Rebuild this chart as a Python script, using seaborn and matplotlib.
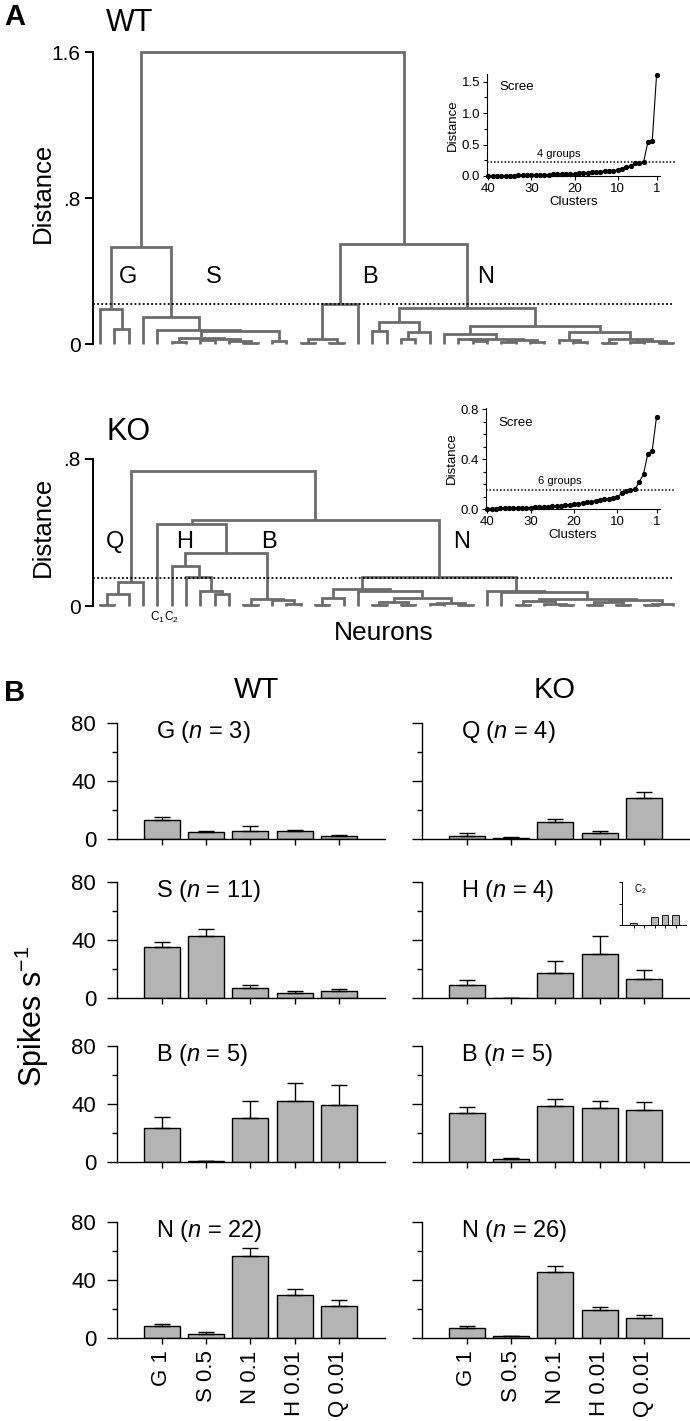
import numpy as np
import pandas as pd
import matplotlib
matplotlib.use("Agg")
import matplotlib.pyplot as plt
import seaborn as sns

# ---------------- data ----------------
L = None  # a leaf = one neuron

# dendrograms: node = (left, right, merge distance)
wt_G = (L, (L, L, 0.082), 0.19)
wt_S_core = ((L, L, 0.012), ((L, L, 0.02), (L, (L, L, 0.008), 0.015), 0.028), 0.035)
wt_S = (L, (L, (wt_S_core, (L, L, 0.018), 0.07), 0.077), 0.146)
wt_B = (((L, L, 0.004), (L, L, 0.006), 0.027), L, 0.219)
wt_N_a = ((L, L, 0.073), ((L, L, 0.03), L, 0.068), 0.122)
wt_N_b = (L, ((L, (L, L, 0.015), 0.028), ((L, L, 0.01), (L, L, 0.012), 0.02), 0.03), 0.055)
wt_N_c = ((L, (L, L, 0.01), 0.02), ((L, L, 0.008), ((L, L, 0.01), (L, L, 0.006), 0.015), 0.03), 0.064)
wt_N = (wt_N_a, (wt_N_b, wt_N_c, 0.10), 0.20)
wt_tree = ((wt_G, wt_S, 0.533), (wt_B, wt_N, 0.547), 1.6)
wt_cut = 0.219

ko_Q = (((L, L, 0.007), L, 0.063), L, 0.133)
ko_H = (L, (L, (L, L, 0.067), 0.081), 0.157)
ko_B = ((L, L, 0.005), (L, (L, L, 0.012), 0.035), 0.04)
ko_N_a = (((L, L, 0.007), L, 0.045),
          (L, (((L, L, 0.004), (L, L, 0.006), 0.02), ((L, L, 0.01), (L, L, 0.004), 0.018), 0.045), 0.081),
          0.094)
ko_N_b = (L, (L, (((L, L, 0.006), (L, (L, L, 0.004), 0.01), 0.025),
                  (((L, L, 0.008), (L, L, 0.005), 0.02), ((L, L, 0.007), L, 0.012), 0.03), 0.04), 0.075), 0.081)
ko_N = (ko_N_a, ko_N_b, 0.157)
ko_tree = (ko_Q, ((L, ((L, ko_H, 0.22), ko_B, 0.288), 0.445), ko_N, 0.467), 0.737)
ko_cut = 0.15

# scree: merge distance for 1..40 clusters
wt_scree = [1.60, 0.555, 0.545, 0.22, 0.205, 0.20, 0.165, 0.14, 0.115, 0.095,
            0.085, 0.08, 0.075, 0.07, 0.062, 0.058, 0.052, 0.048, 0.042, 0.038,
            0.035, 0.032, 0.029, 0.026, 0.024, 0.021, 0.019, 0.017, 0.015, 0.013,
            0.011, 0.010, 0.008, 0.007, 0.006, 0.005, 0.004, 0.003, 0.002, 0.001]
ko_scree = [0.74, 0.467, 0.445, 0.28, 0.215, 0.157, 0.152, 0.145, 0.13, 0.095,
            0.088, 0.083, 0.078, 0.072, 0.066, 0.06, 0.054, 0.048, 0.044, 0.04,
            0.036, 0.032, 0.028, 0.025, 0.022, 0.02, 0.018, 0.016, 0.014, 0.012,
            0.011, 0.010, 0.009, 0.008, 0.007, 0.006, 0.005, 0.004, 0.003, 0.002]

# panel B: mean spike rate and SEM per stimulus
stimuli = ["G 1", "S 0.5", "N 0.1", "H 0.01", "Q 0.01"]

wt_groups = ["G", "S", "B", "N"]
wt_n = [3, 11, 5, 22]
wt_rate = [[13.1, 4.6, 5.7, 5.3, 1.8],
           [34.9, 42.5, 6.9, 3.7, 4.6],
           [23.4, 0.4, 30.3, 42.3, 39.5],
           [8.1, 2.5, 56.6, 29.6, 22.2]]
wt_sem = [[2.3, 1.1, 3.0, 0.9, 0.7],
          [4.0, 4.9, 1.8, 1.4, 1.6],
          [7.9, 0.3, 11.5, 12.4, 13.8],
          [1.8, 1.4, 5.6, 3.9, 3.7]]

ko_groups = ["Q", "H", "B", "N"]
ko_n = [4, 4, 5, 26]
ko_rate = [[2.3, 0.9, 12.0, 4.1, 28.4],
           [8.8, 0.0, 17.5, 30.4, 13.1],
           [33.5, 2.1, 38.3, 37.4, 35.8],
           [6.9, 1.2, 45.5, 19.2, 14.1]]
ko_sem = [[1.6, 0.7, 1.6, 1.2, 3.9],
          [3.4, 0.0, 8.3, 12.2, 6.3],
          [4.1, 0.7, 5.1, 4.4, 5.8],
          [1.4, 0.4, 4.4, 2.0, 1.8]]

c2_rate = [3.0, 0.0, 14.0, 18.5, 18.5]

# ---------------- style ----------------
sns.set_theme(style="ticks")
plt.rcParams["font.family"] = ["Liberation Sans", "DejaVu Sans"]
plt.rcParams["mathtext.fontset"] = "custom"
plt.rcParams["mathtext.rm"] = "Liberation Sans"
plt.rcParams["mathtext.it"] = "Liberation Sans:italic"
plt.rcParams["mathtext.bf"] = "Liberation Sans:bold"
for key in ["text.color", "axes.labelcolor", "xtick.color", "ytick.color", "axes.edgecolor"]:
    plt.rcParams[key] = "black"

TREE = "#6c6c6c"
BAR = "#b4b4b4"
W, H = 690, 1421
fig = plt.figure(figsize=(W / 100, H / 100), dpi=100)


def add_ax(left, top, right, bottom):
    return fig.add_axes([left / W, 1 - bottom / H, (right - left) / W, (bottom - top) / H])


def ftext(x, y, s, **kw):
    kw.setdefault("ha", "center")
    kw.setdefault("va", "center")
    fig.text(x / W, 1 - y / H, s, **kw)


def draw_tree(ax, node, counter):
    if node is None:
        x = counter[0]
        counter[0] += 1
        return x, 0.0
    a, b, h = node
    xa, ha = draw_tree(ax, a, counter)
    xb, hb = draw_tree(ax, b, counter)
    ax.plot([xa, xa, xb, xb], [ha, h, h, hb], color=TREE, lw=2.0,
            solid_capstyle="butt", solid_joinstyle="miter", clip_on=False)
    return (xa + xb) / 2, h


def dendro(ax, tree, cut, ymax, ticklabels):
    draw_tree(ax, tree, [0])
    ax.plot([-0.5, 40.0], [cut, cut], color="black", lw=1.3, ls=(0, (1, 1.3)), clip_on=False)
    ax.set_xlim(-0.5, 40.2)
    ax.set_ylim(0, ymax)
    for s in ["top", "right", "bottom"]:
        ax.spines[s].set_visible(False)
    ax.spines["left"].set_linewidth(1.4)
    ax.set_xticks([])
    ax.set_yticks(np.linspace(0, ymax, len(ticklabels)))
    ax.set_yticklabels(ticklabels)
    ax.tick_params(axis="y", length=6, width=1.4, labelsize=15, pad=3)


def scree(ax, values, cut, ymax, yticks, ylabels, minor, text_y, group_text):
    df = pd.DataFrame({"Clusters": np.arange(1, len(values) + 1), "Distance": values})
    sns.lineplot(data=df, x="Clusters", y="Distance", ax=ax, color="black", lw=0.8,
                 marker="o", markersize=3.8, markeredgewidth=0, clip_on=False)
    ax.plot([40.3, -3.3], [cut, cut], color="black", lw=1.1, ls=(0, (1, 1.3)), clip_on=False)
    ax.set_xlim(40.3, 0.2)
    ax.set_ylim(0, ymax)
    ax.set_xticks([40, 30, 20, 10, 1])
    ax.set_yticks(yticks)
    ax.set_yticklabels(ylabels)
    ax.set_yticks(minor, minor=True)
    for s in ["top", "right"]:
        ax.spines[s].set_visible(False)
    for s in ["left", "bottom"]:
        ax.spines[s].set_linewidth(0.8)
    ax.tick_params(which="both", length=3, width=0.8, labelsize=9.5, pad=2)
    ax.tick_params(which="minor", length=2)
    ax.set_xlabel("Clusters", fontsize=9.5, labelpad=1)
    ax.set_ylabel("Distance", fontsize=9.5, labelpad=2)
    ax.text(0.07, text_y, "Scree", transform=ax.transAxes, fontsize=9.5, ha="left", va="center")
    ax.text(group_text[0], group_text[1], group_text[2], transform=ax.transAxes,
            fontsize=8, ha="center", va="center")


# ---------------- panel A ----------------
ftext(4, 17, "A", fontsize=21, fontweight="bold", ha="left")

ax_wt = add_ax(93, 52, 676, 344)
dendro(ax_wt, wt_tree, wt_cut, 1.6, ["0", ".8", "1.6"])
for lab, x in zip(wt_groups, [1.95, 7.9, 18.8, 26.9]):
    ax_wt.text(x, 0.367, lab, fontsize=17, ha="center", va="center")
ftext(130, 23, "WT", fontsize=22)
ftext(43, 193, "Distance", fontsize=18.5, rotation=90)

ax_ko = add_ax(93, 459, 676, 606)
dendro(ax_ko, ko_tree, ko_cut, 0.8, ["0", ".8"])
for lab, x in zip(["Q", "H", "B", "N"], [1.05, 5.9, 11.8, 25.2]):
    ax_ko.text(x, 0.348, lab, fontsize=17, ha="center", va="center")
ax_ko.text(4, -0.06, "C$_1$", fontsize=8.5, ha="center", va="center")
ax_ko.text(5, -0.06, "C$_2$", fontsize=8.5, ha="center", va="center")
ftext(129, 432, "KO", fontsize=22)
ftext(43, 527, "Distance", fontsize=18.5, rotation=90)
ftext(384, 633, "Neurons", fontsize=19)

ax_s1 = add_ax(487, 74, 660, 176)
scree(ax_s1, wt_scree, wt_cut, 1.62, [0, 0.5, 1.0, 1.5], ["0.0", "0.5", "1.0", "1.5"],
      [0.25, 0.75, 1.25], 0.87, (0.416, 0.216, "4 groups"))
ax_s2 = add_ax(486, 408, 660, 509)
scree(ax_s2, ko_scree, ko_cut, 0.81, [0, 0.4, 0.8], ["0.0", "0.4", "0.8"],
      [0.1, 0.2, 0.3, 0.5, 0.6, 0.7], 0.85, (0.425, 0.277, "6 groups"))

# ---------------- panel B ----------------
ftext(4, 693, "B", fontsize=21, fontweight="bold", ha="left")
ftext(257, 690, "WT", fontsize=21)
ftext(555, 690, "KO", fontsize=21)
ftext(32, 1017, "Spikes s$^{-1}$", fontsize=22, rotation=90)

row_tops = [723, 882, 1046, 1222]


def bars(ax, means, sems, title, left_labels, bottom_labels):
    df = pd.DataFrame({"stim": stimuli, "rate": means})
    sns.barplot(data=df, x="stim", y="rate", ax=ax, color=BAR, saturation=1,
                edgecolor="black", linewidth=1.0, width=0.81, errorbar=None)
    ax.errorbar(np.arange(len(stimuli)), means, yerr=[np.zeros(len(sems)), sems],
                fmt="none", ecolor="black", elinewidth=1.0, capsize=6, capthick=1.0)
    ax.set_xlim(-1.01, 5.04)
    ax.set_ylim(0, 80)
    ax.set_xlabel("")
    ax.set_ylabel("")
    for s in ["top", "right"]:
        ax.spines[s].set_visible(False)
    for s in ["left", "bottom"]:
        ax.spines[s].set_linewidth(1.0)
    ax.set_yticks([0, 40, 80])
    ax.set_yticks([20, 60], minor=True)
    ax.tick_params(axis="y", which="major", length=7, width=1.0, labelsize=16, pad=8,
                   labelleft=left_labels)
    ax.tick_params(axis="y", which="minor", length=3.6, width=1.0)
    ax.tick_params(axis="x", length=4, width=1.0, labelsize=16, pad=5,
                   labelbottom=bottom_labels)
    if bottom_labels:
        ax.set_xticks(range(len(stimuli)))
        ax.set_xticklabels(stimuli, rotation=90)
    ax.text(-0.12, 74, title, fontsize=17, ha="left", va="center")


for i, top in enumerate(row_tops):
    last = i == len(row_tops) - 1
    axl = add_ax(117, top, 385, top + 116)
    bars(axl, wt_rate[i], wt_sem[i], f"{wt_groups[i]} ($n$ = {wt_n[i]})", True, last)
    axr = add_ax(422, top, 690, top + 116)
    bars(axr, ko_rate[i], ko_sem[i], f"{ko_groups[i]} ($n$ = {ko_n[i]})", False, last)

# C2 inset inside KO H panel
ax_c2 = add_ax(622, 882, 686, 925)
sns.barplot(x=stimuli, y=c2_rate, ax=ax_c2, color=BAR, saturation=1,
            edgecolor="black", linewidth=0.6, width=0.65, errorbar=None)
ax_c2.set_xlim(-1.1, 5.0)
ax_c2.set_ylim(0, 80)
for s in ["top", "right"]:
    ax_c2.spines[s].set_visible(False)
for s in ["left", "bottom"]:
    ax_c2.spines[s].set_linewidth(0.7)
ax_c2.set_yticks([0, 40, 80])
ax_c2.set_yticklabels([])
ax_c2.set_xticklabels([])
ax_c2.tick_params(length=2, width=0.7)
ax_c2.text(0.19, 0.84, "C$_2$", transform=ax_c2.transAxes, fontsize=7, ha="left", va="center")

fig.savefig("out.png", dpi=100)
